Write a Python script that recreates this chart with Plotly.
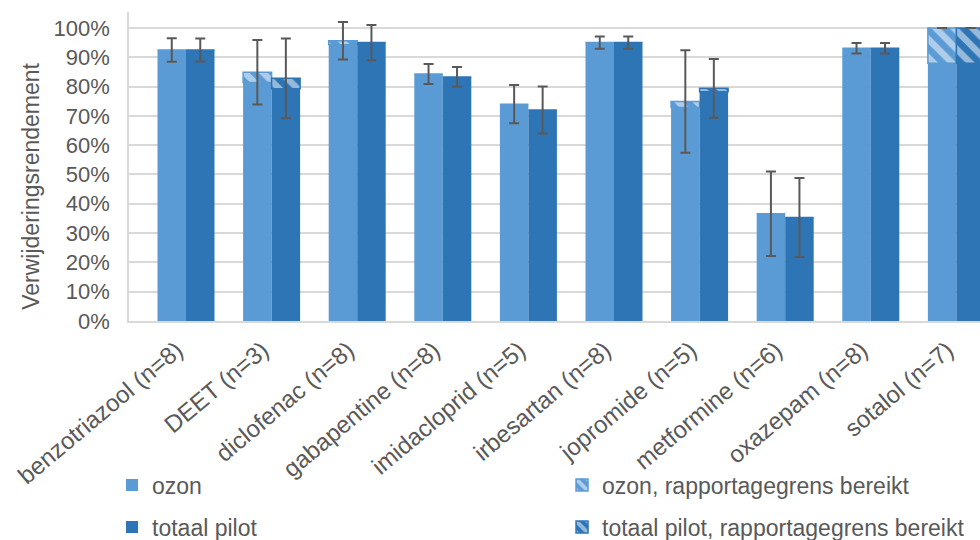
import plotly.graph_objects as go

categories = [
    "benzotriazool (n=8)", "DEET (n=3)", "diclofenac (n=8)", "gabapentine (n=8)",
    "imidacloprid (n=5)", "irbesartan (n=8)", "jopromide (n=5)", "metformine (n=6)",
    "oxazepam (n=8)", "sotalol (n=7)",
]

# removal efficiency (%) per substance
ozon_mean = [92.5, 84.9, 95.6, 84.3, 74.0, 95.0, 74.9, 36.6, 93.1, 100.0]
ozon_err = [4.0, 11.0, 6.4, 3.4, 6.5, 2.1, 17.5, 14.4, 1.8, 0.0]
# top part of the bar where the reporting limit was reached
ozon_limit = [0.0, 3.5, 1.3, 0.0, 0.0, 0.0, 2.0, 0.0, 0.0, 12.0]

pilot_mean = [92.5, 82.8, 95.0, 83.3, 72.0, 95.0, 79.4, 35.3, 93.1, 100.0]
pilot_err = [3.9, 13.6, 6.0, 3.4, 8.0, 2.1, 10.0, 13.5, 1.8, 0.0]
pilot_limit = [0.0, 3.5, 0.0, 0.0, 0.0, 0.0, 1.2, 0.0, 0.0, 12.0]

y_ticks = [0, 10, 20, 30, 40, 50, 60, 70, 80, 90, 100]
y_tick_labels = ["0%", "10%", "20%", "30%", "40%", "50%", "60%", "70%", "80%", "90%", "100%"]

OZON = "#5B9BD5"
PILOT = "#2E75B6"
GREY = "#595959"
GRID = "#D9D9D9"
FONT = "Liberation Sans, Arial, sans-serif"

fig = go.Figure()


def add_series(name, color, mean, err, limit, group, legend_solid, legend_limit):
    solid = [m - l for m, l in zip(mean, limit)]
    fig.add_trace(go.Bar(
        x=categories, y=solid, name=name, offsetgroup=group,
        marker=dict(color=color, line=dict(width=0)),
        legend=legend_solid, showlegend=True,
    ))
    fig.add_trace(go.Bar(
        x=categories, y=limit, base=solid, name=name + ", rapportagegrens bereikt",
        offsetgroup=group,
        marker=dict(color=color, line=dict(width=1.5, color=color),
                    pattern=dict(shape="\\", fgcolor="white", size=13, solidity=0.5)),
        error_y=dict(type="data", array=err, visible=True, color=GREY,
                     thickness=2, width=5),
        legend=legend_limit, showlegend=True,
    ))


add_series("ozon", OZON, ozon_mean, ozon_err, ozon_limit, "a", "legend", "legend2")
add_series("totaal pilot", PILOT, pilot_mean, pilot_err, pilot_limit, "b", "legend3", "legend4")


def legend_at(x, y):
    return dict(
        orientation="h", xref="container", yref="container",
        x=x, y=y, xanchor="left", yanchor="middle",
        font=dict(family=FONT, size=23, color=GREY),
        bgcolor="rgba(0,0,0,0)",
    )


fig.update_layout(
    width=980, height=540,
    margin=dict(l=129, r=0, t=12, b=219),
    paper_bgcolor="white", plot_bgcolor="white",
    showlegend=True,
    barmode="group", bargap=0.334, bargroupgap=0,
    font=dict(family=FONT, size=22, color=GREY),
    legend=legend_at(0.1143, 0.1019),
    legend2=legend_at(0.5735, 0.1019),
    legend3=legend_at(0.1143, 0.0241),
    legend4=legend_at(0.5735, 0.0241),
    xaxis=dict(
        type="category", range=[-0.666, 9.276], automargin=False,
        tickangle=-40, showline=True, linecolor=GRID, linewidth=1.5,
        showgrid=False, ticks="", ticklabelshift=-9, ticklabelstandoff=4,
        tickfont=dict(family=FONT, size=24, color=GREY),
    ),
    yaxis=dict(
        range=[0, 105.45], tickvals=y_ticks, ticktext=y_tick_labels,
        automargin=False,
        showgrid=True, gridcolor=GRID, gridwidth=1.5,
        showline=True, linecolor=GRID, linewidth=1.5,
        ticks="", ticklabelstandoff=13, zeroline=False,
        tickfont=dict(family=FONT, size=22, color=GREY),
    ),
    annotations=[dict(
        text="Verwijderingsrendement", textangle=-90,
        xref="paper", yref="paper", x=-0.1152, y=0.4375,
        xanchor="center", yanchor="middle", showarrow=False,
        font=dict(family=FONT, size=23, color=GREY),
    )],
)

fig.write_html("out.html")
